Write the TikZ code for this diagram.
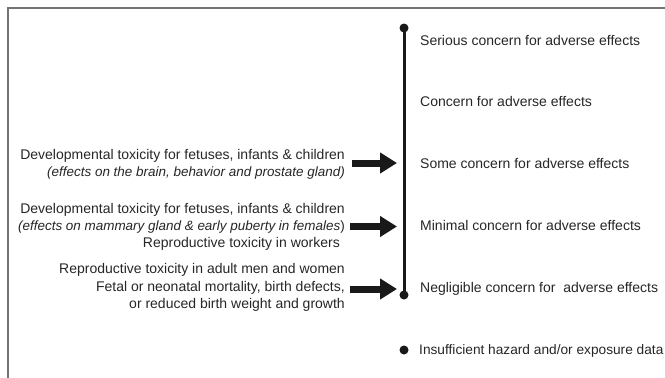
\documentclass[tikz,border=0pt]{standalone}
\usepackage{fontspec}
\setmainfont{Liberation Sans}
\usetikzlibrary{arrows.meta}
\begin{document}
\begin{tikzpicture}[x=1pt,y=-1pt,
  txt/.style={font=\fontsize{14}{17}\selectfont, text=black!85, inner sep=0pt},
  lefttxt/.style={txt, anchor=base east},
  itxt/.style={lefttxt, font=\fontsize{13.45}{17}\selectfont\itshape},
  righttxt/.style={txt, anchor=base west},
  bigarrow/.style={draw=black!90, line width=7pt, -{Triangle[length=17pt,width=20pt]}},
  scalebar/.style={draw=black!90, line width=3pt},
  enddot/.style={circle, fill=black!90, inner sep=0pt, minimum size=9pt},
  frameline/.style={draw=black!55, line width=2pt}
]
\useasboundingbox (0,0) rectangle (665,378);
% frame
\coordinate (fb) at (8,378);
\coordinate (fc) at (8,8);
\coordinate (fr) at (665,8);
\draw[frameline] (fb) -- (fc) -- (fr);

% scale bar
\node[enddot] (top) at (404,28) {};
\node[enddot] (bot) at (404,295) {};
\draw[scalebar] (top.center) -- (bot.center);
\node[enddot] (ins) at (404,350) {};

% right labels
\node[righttxt] (r1) at (420,45.5) {Serious concern for adverse effects};
\node[righttxt] (r2) at (420,106.5) {Concern for adverse effects};
\node[righttxt] (r3) at (420,168) {Some concern for adverse effects};
\node[righttxt] (r4) at (420,230.5) {Minimal concern for adverse effects};
\node[righttxt] (r5) at (420,292.5) {Negligible concern for\ \ adverse effects};
\node[righttxt, font=\fontsize{13.7}{17}\selectfont] (r6) at (419,354.5) {Insufficient hazard and/or exposure data};

% left labels
\node[lefttxt] (a1) at (345,159.5) {Developmental toxicity for fetuses, infants \& children};
\node[itxt] (a2) at (345,176.5) {(effects on the brain, behavior and prostate gland)};

\node[lefttxt] (b1) at (345,213) {Developmental toxicity for fetuses, infants \& children};
\node[itxt] (b2) at (345,230) {(effects on mammary gland \& early puberty in females\upshape)};
\node[lefttxt] (b3) at (340,247.5) {Reproductive toxicity in workers};

\node[lefttxt] (c1) at (345,273) {Reproductive toxicity in adult men and women};
\node[lefttxt] (c2) at (345,291) {Fetal or neonatal mortality, birth defects,};
\node[lefttxt] (c3) at (345,308.5) {or reduced birth weight and growth};

% arrows
\coordinate (t1) at (352,163);
\coordinate (h1) at (397,163);
\coordinate (t2) at (350,226.5);
\coordinate (h2) at (397,226.5);
\coordinate (t3) at (350,289);
\coordinate (h3) at (397,289);
\draw[bigarrow] (t1) -- (h1);
\draw[bigarrow] (t2) -- (h2);
\draw[bigarrow] (t3) -- (h3);
\end{tikzpicture}
\end{document}
